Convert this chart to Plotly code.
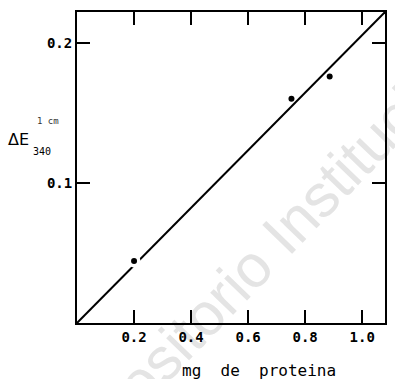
import plotly.graph_objects as go

# data
protein_mg = [0.20, 0.752, 0.886]
delta_e = [0.0443, 0.160, 0.176]
fit_x = [0.0, 1.08]
fit_y = [0.0, 0.222]
x_ticks = [0.2, 0.4, 0.6, 0.8, 1.0]
x_ticklabels = ["0.2", "0.4", "0.6", "0.8", "1.0"]
y_ticks = [0.1, 0.2]
y_ticklabels = ["0.1", "0.2"]

FONT = "DejaVu Sans Mono"

fig = go.Figure()
fig.add_trace(go.Scatter(x=fit_x, y=fit_y, mode="lines",
                         line=dict(color="black", width=2), hoverinfo="skip"))
# white halo that breaks the line around the first point
fig.add_trace(go.Scatter(x=protein_mg[:1], y=delta_e[:1], mode="markers",
                         marker=dict(color="white", size=13), hoverinfo="skip"))
fig.add_trace(go.Scatter(x=protein_mg, y=delta_e, mode="markers",
                         marker=dict(color="black", size=6),
                         hoverinfo="skip"))

axis_common = dict(showgrid=False, zeroline=False, showline=True, linecolor="black",
                   linewidth=2, mirror="ticks", ticks="inside", ticklen=13, tickwidth=2,
                   tickcolor="black",
                   tickfont=dict(family=FONT, size=14, color="black", weight="bold"))

fig.update_layout(
    width=395, height=379,
    margin=dict(l=77, r=8, t=12, b=56),
    paper_bgcolor="white", plot_bgcolor="rgba(0,0,0,0)",
    showlegend=False,
    xaxis=dict(range=[0, 1.08], tickvals=x_ticks, ticktext=x_ticklabels, **axis_common),
    yaxis=dict(range=[0, 0.222], tickvals=y_ticks, ticktext=y_ticklabels, **axis_common),
    shapes=[dict(type="rect", xref="paper", yref="paper", x0=0.58, x1=0.66, y0=0.23, y1=0.30,
                 line=dict(width=0), fillcolor="rgba(0,0,0,0)", layer="below",
                 label=dict(text="Repositorio Institucional", textangle=-46,
                            textposition="middle center",
                            font=dict(family="Liberation Sans", size=60, color="#e4e4e4")))],
    annotations=[
        dict(text="mg  de  proteina", xref="paper", yref="paper", x=0.59, y=-0.152,
             xanchor="center", yanchor="middle", showarrow=False,
             font=dict(family=FONT, size=16, color="black")),
        dict(text="ΔE", xref="paper", yref="paper", x=-0.19, y=0.59,
             xanchor="center", yanchor="middle", showarrow=False,
             font=dict(family="DejaVu Sans", size=16, color="black")),
        dict(text="1 cm", xref="paper", yref="paper", x=-0.094, y=0.648,
             xanchor="center", yanchor="middle", showarrow=False,
             font=dict(family=FONT, size=9, color="#333333")),
        dict(text="340", xref="paper", yref="paper", x=-0.115, y=0.55,
             xanchor="center", yanchor="middle", showarrow=False,
             font=dict(family=FONT, size=10, color="black")),
    ],
)

fig.write_html("out.html")
